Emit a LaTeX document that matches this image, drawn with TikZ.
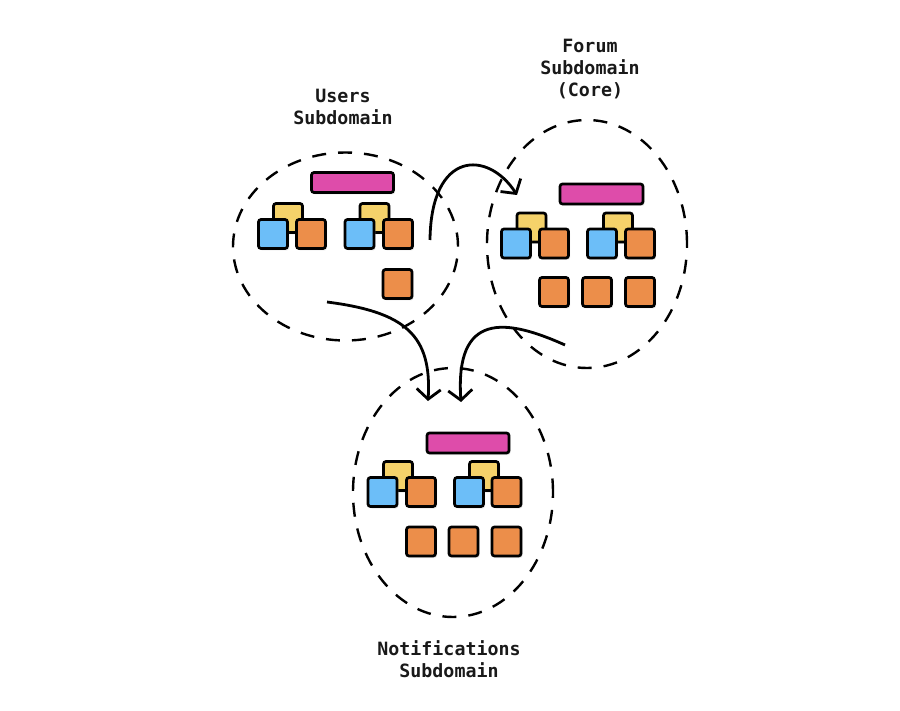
\documentclass[tikz,border=0pt]{standalone}
\usepackage{fontspec}
\setmonofont{DejaVu Sans Mono}
\usetikzlibrary{arrows.meta,shapes.geometric}
\definecolor{cpink}{RGB}{222,76,170}
\definecolor{cblue}{RGB}{108,190,248}
\definecolor{cyellow}{RGB}{245,210,106}
\definecolor{corange}{RGB}{236,142,74}
\tikzset{
  sq/.style={draw=black, line width=2.7pt, rounded corners=2.5pt, minimum width=29pt, minimum height=29pt, inner sep=0pt,
    preaction={fill=black!25, fill opacity=0.35, transform canvas={shift={(1.5pt,-2pt)}}}},
  bar/.style={sq, fill=cpink, minimum width=82pt, minimum height=20pt},
  bsq/.style={sq, fill=cblue},
  ysq/.style={sq, fill=cyellow},
  osq/.style={sq, fill=corange},
  region/.style={draw=black, line width=2.4pt, dash pattern=on 14pt off 12pt, ellipse, inner sep=0pt},
  lbl/.style={font=\ttfamily\bfseries\fontsize{18.3}{22}\selectfont, align=center, text=black!90},
  flow/.style={draw=black, line width=2.8pt, -{Straight Barb[length=10pt,width=24pt,line width=2.8pt]}}
}
\begin{document}
\begin{tikzpicture}[x=1pt,y=-1pt]
\useasboundingbox (0,0) rectangle (900,711);
% regions
\node[region, minimum width=225pt, minimum height=188pt] (users) at (345.5,246.5) {};
\node[region, minimum width=200pt, minimum height=248pt] (forum) at (587,244) {};
\node[region, minimum width=200pt, minimum height=249pt] (notif) at (453,492.5) {};
% labels
\node[lbl] (usersl) at (343,107) {Users\\Subdomain};
\node[lbl] (foruml) at (590,69) {Forum\\Subdomain\\(Core)};
\node[lbl] (notifl) at (449,659) {Notifications\\Subdomain};
% users content
\node[bar] (ubar) at (352.5,182.5) {};
\node[ysq] (uy1) at (288,218) {};
\node[bsq] (ub1) at (273,234) {};
\node[osq] (uo1) at (311,234) {};
\node[ysq] (uy2) at (374.5,218) {};
\node[bsq] (ub2) at (359.5,234) {};
\node[osq] (uo2) at (398,234) {};
\node[osq] (uo3) at (397.5,284) {};
% forum content
\node[bar, minimum width=83pt] (fbar) at (601.5,194) {};
\node[ysq] (fy1) at (531.5,227.5) {};
\node[bsq] (fb1) at (516,243.5) {};
\node[osq] (fo1) at (554,243.5) {};
\node[ysq] (fy2) at (618,227.5) {};
\node[bsq] (fb2) at (602,243.5) {};
\node[osq] (fo2) at (640,243.5) {};
\node[osq] (fo3) at (554,292) {};
\node[osq] (fo4) at (597,292) {};
\node[osq] (fo5) at (640,292) {};
% notifications content
\node[bar] (nbar) at (468,443) {};
\node[ysq] (ny1) at (398,476) {};
\node[bsq] (nb1) at (382.5,492) {};
\node[osq] (no1) at (421,492) {};
\node[ysq] (ny2) at (484,476) {};
\node[bsq] (nb2) at (469,492) {};
\node[osq] (no2) at (506.5,492) {};
\node[osq] (no3) at (421,541.5) {};
\node[osq] (no4) at (463.5,541.5) {};
\node[osq] (no5) at (506.5,541.5) {};
% connector ends
\coordinate (a1s) at (430,240);
\coordinate (a1e) at (517,195);
\coordinate (a2s) at (327,302);
\coordinate (a2e) at (428,401);
\coordinate (a3s) at (565,345);
\coordinate (a3e) at (461,402);
\draw[flow] (a1s) .. controls (431,150) and (488,150) .. (a1e);
\draw[flow] (a2s) .. controls (405,312) and (432,335) .. (a2e);
\draw[flow] (a3s) .. controls (505,318) and (455,312) .. (a3e);
\end{tikzpicture}
\end{document}
